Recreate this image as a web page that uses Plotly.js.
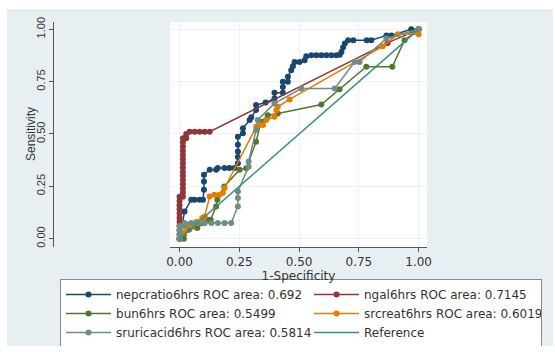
<!DOCTYPE html>
<html>
<head>
<meta charset="utf-8">
<script src="https://cdn.plot.ly/plotly-3.0.1.min.js"></script>
<style>
html,body{margin:0;padding:0;background:#ffffff;}
#chart{position:absolute;left:7px;top:9px;width:546px;height:337px;}
</style>
</head>
<body>
<div id="chart"></div>
<script>
// ---- data ----
const seriesNames = [
  "nepcratio6hrs ROC area: 0.692",
  "ngal6hrs ROC area: 0.7145",
  "bun6hrs ROC area: 0.5499",
  "srcreat6hrs ROC area: 0.6019",
  "sruricacid6hrs ROC area: 0.5814",
  "Reference"
];

const nepX = [0,0.021,0.049,0.063,0.084,0.098,0.102,0.102,0.102,0.126,0.153,0.16,0.188,0.209,0.23,0.244,0.244,0.244,0.244,0.244,0.265,0.265,0.293,0.30,0.32,0.32,0.36,0.397,0.397,0.432,0.432,0.432,0.453,0.453,0.467,0.474,0.481,0.502,0.523,0.53,0.551,0.572,0.593,0.614,0.635,0.656,0.67,0.677,0.684,0.691,0.705,0.727,0.783,0.802,0.865,0.886,0.969,1];
const nepY = [0,0.13,0.186,0.186,0.186,0.186,0.233,0.273,0.305,0.329,0.329,0.337,0.337,0.337,0.337,0.36,0.39,0.416,0.448,0.487,0.503,0.527,0.567,0.58,0.614,0.638,0.65,0.67,0.697,0.697,0.725,0.749,0.749,0.773,0.805,0.824,0.844,0.844,0.852,0.871,0.876,0.876,0.876,0.876,0.876,0.876,0.879,0.892,0.913,0.932,0.948,0.948,0.948,0.948,0.971,0.971,1,1];

const ngalX = [0,0,0,0,0,0,0,0,0,0,0,0.014,0.014,0.014,0.014,0.014,0.014,0.014,0.014,0.014,0.014,0.014,0.014,0.014,0.014,0.014,0.028,0.028,0.042,0.063,0.084,0.105,0.126,0.87,1];
const ngalY = [0,0.02,0.04,0.06,0.08,0.10,0.12,0.14,0.16,0.18,0.20,0.20,0.22,0.24,0.26,0.28,0.30,0.32,0.34,0.36,0.38,0.40,0.42,0.44,0.46,0.48,0.48,0.50,0.511,0.511,0.511,0.511,0.511,0.935,1];

const bunX = [0,0.018,0.018,0.039,0.074,0.102,0.119,0.13,0.153,0.158,0.187,0.251,0.279,0.32,0.341,0.369,0.411,0.593,0.669,0.781,0.89,0.941,1];
const bunY = [0,0,0.02,0.043,0.051,0.075,0.09,0.09,0.154,0.186,0.249,0.329,0.336,0.463,0.559,0.59,0.598,0.641,0.714,0.821,0.821,0.948,1];

const srcX = [0,0.021,0.042,0.053,0.07,0.095,0.105,0.126,0.146,0.167,0.181,0.188,0.321,0.335,0.349,0.363,0.397,0.405,0.411,0.46,0.85,0.913,1,1];
const srcY = [0,0.03,0.067,0.059,0.08,0.098,0.106,0.201,0.21,0.21,0.218,0.241,0.535,0.543,0.543,0.567,0.582,0.614,0.63,0.665,0.919,0.976,0.976,1];

const uricX = [0,0,0,0,0.021,0.021,0.049,0.077,0.105,0.133,0.16,0.188,0.216,0.244,0.244,0.244,0.289,0.289,0.32,0.327,0.397,0.509,0.649,0.732,0.753,0.865,1];
const uricY = [0,0.02,0.04,0.06,0.06,0.075,0.075,0.075,0.075,0.075,0.075,0.075,0.075,0.154,0.194,0.225,0.344,0.368,0.519,0.567,0.646,0.717,0.717,0.844,0.844,0.956,1];

const refX = [0,1];
const refY = [0,1];

const tickVals = [0,0.25,0.5,0.75,1];
const tickText = ["0.00","0.25","0.50","0.75","1.00"];

const colors = ["#1a476f","#90353b","#55752f","#e37e00","#6e8e84","#3f8e86"];

function roc(x,y,name,color,lw){
  const t = {x:x,y:y,name:name,type:"scatter",mode:"lines+markers",
    line:{color:color,width:1.5},
    marker:{color:color,size:6,symbol:"circle"}};
  if(lw) t.legendwidth = lw;
  return t;
}

const traces = [
  roc(nepX,nepY,seriesNames[0],colors[0]),
  roc(ngalX,ngalY,seriesNames[1],colors[1],172),
  roc(bunX,bunY,seriesNames[2],colors[2]),
  roc(srcX,srcY,seriesNames[3],colors[3],172),
  roc(uricX,uricY,seriesNames[4],colors[4]),
  {x:refX,y:refY,name:seriesNames[5],type:"scatter",mode:"lines",legendwidth:172,line:{color:colors[5],width:1.5}}
];

const axisFont = {family:"DejaVu Sans, sans-serif",size:12,color:"#333"};

const layout = {
  width:546,height:337,
  paper_bgcolor:"#e7eff2",
  plot_bgcolor:"#ffffff",
  margin:{l:0,r:10,t:13,b:99,pad:0,autoexpand:false},
  showlegend:true,
  xaxis:{
    domain:[0.3041,0.7836],
    range:[-0.04,1.035],
    tickvals:tickVals,ticktext:tickText,
    ticks:"outside",ticklen:4,tickcolor:"#555",
    showline:true,linecolor:"#555",linewidth:1,
    showgrid:true,gridcolor:"#eef2f4",gridwidth:1,
    zeroline:false,
    tickfont:axisFont,
    title:{text:"1-Specificity",font:axisFont,standoff:0}
  },
  yaxis:{
    anchor:"free",position:0.0858,
    range:[-0.04,1.035],
    tickvals:tickVals,ticktext:tickText,
    tickangle:-90,
    ticks:"outside",ticklen:4,tickcolor:"#555",
    showline:true,linecolor:"#555",linewidth:1,
    showgrid:true,gridcolor:"#eef2f4",gridwidth:1,
    zeroline:false,
    tickfont:{family:"Liberation Sans, Arial, sans-serif",size:11,color:"#333"}
  },
  annotations:[{
    text:"Sensitivity",textangle:-90,
    xref:"paper",yref:"y",x:0.0448,y:0.5,
    xanchor:"center",yanchor:"middle",showarrow:false,
    font:{family:"Liberation Sans, Arial, sans-serif",size:12,color:"#333"}
  }],
  legend:{
    orientation:"h",
    x:0.0989,y:-0.1422,xanchor:"left",yanchor:"top",
    bgcolor:"#ffffff",bordercolor:"#8a8a8a",borderwidth:1,
    font:{family:"DejaVu Sans, sans-serif",size:12,color:"#333"},
    itemwidth:45,
    entrywidth:188,entrywidthmode:"pixels",
    traceorder:"normal"
  }
};

Plotly.newPlot("chart",traces,layout,{displayModeBar:false,staticPlot:true});
</script>
</body>
</html>
